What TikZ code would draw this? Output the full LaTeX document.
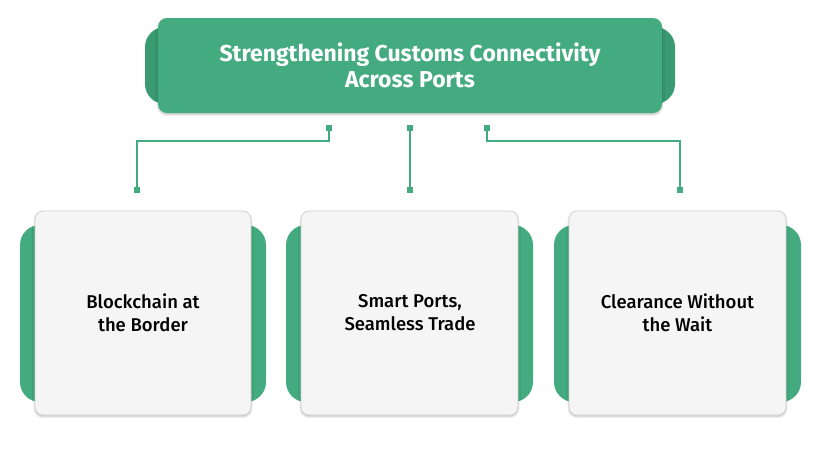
\documentclass[tikz,border=0pt]{standalone}
\usepackage{fontspec}
\setmainfont{Fira Sans}
\newfontfamily\medfont{Fira Sans Medium}
\usetikzlibrary{shadows.blur}
\definecolor{gmain}{HTML}{43AB7F}
\definecolor{gdark}{HTML}{3A9A71}
\definecolor{card}{HTML}{F5F5F5}
\definecolor{cardline}{HTML}{D2D2D2}
\tikzset{
  x=1pt,y=-1pt,
  backtab/.style={fill=gmain, rounded corners=20pt},
  cardbox/.style={fill=card, draw=cardline, line width=0.8pt, rounded corners=8pt,
     blur shadow={shadow xshift=0pt, shadow yshift=-1.5pt, shadow blur steps=6, shadow opacity=25}},
  titlebox/.style={fill=gmain, rounded corners=9pt,
     blur shadow={shadow xshift=0pt, shadow yshift=-1.5pt, shadow blur steps=6, shadow opacity=25}},
  cardtext/.style={font=\medfont\fontsize{18.5}{23}\selectfont, text=black, align=center},
  titletext/.style={font=\bfseries\fontsize{23}{26}\selectfont, text=white, align=center},
  link/.style={draw=gmain, line width=1.5pt},
  dot/.style={fill=gmain, minimum size=6.5pt, inner sep=0pt, rectangle},
}
\begin{document}
\begin{tikzpicture}
\useasboundingbox (0,0) rectangle (820,453);
% title
\fill[gdark, rounded corners=20pt] (145,27) rectangle (675,104);
\path[titlebox] (158,18) rectangle (662,113);
\node[titletext] (title) at (410,65.5) {Strengthening Customs Connectivity\\Across Ports};
% cards
\foreach \l/\r [count=\i] in {35/251, 301/518, 569/786}{
  \fill[backtab] (\l-15,225) rectangle (\r+15,402);
  \path[cardbox] (\l,211) rectangle (\r,415);
}
\node[cardtext] (c1) at (143,313) {Blockchain at\\the Border};
\node[cardtext] (c2) at (410,313) {Smart Ports,\\Seamless Trade};
\node[cardtext] (c3) at (677.5,313) {Clearance Without\\the Wait};
% connectors
\node[dot] (t1) at (329,128) {};
\node[dot] (t2) at (410,128) {};
\node[dot] (t3) at (487,128) {};
\node[dot] (b1) at (137,190) {};
\node[dot] (b2) at (410,190) {};
\node[dot] (b3) at (680,190) {};
\draw[link] (t1.center) |- (137,141) -- (b1.center);
\draw[link] (t2.center) -- (b2.center);
\draw[link] (t3.center) |- (680,141) -- (b3.center);
\end{tikzpicture}
\end{document}
